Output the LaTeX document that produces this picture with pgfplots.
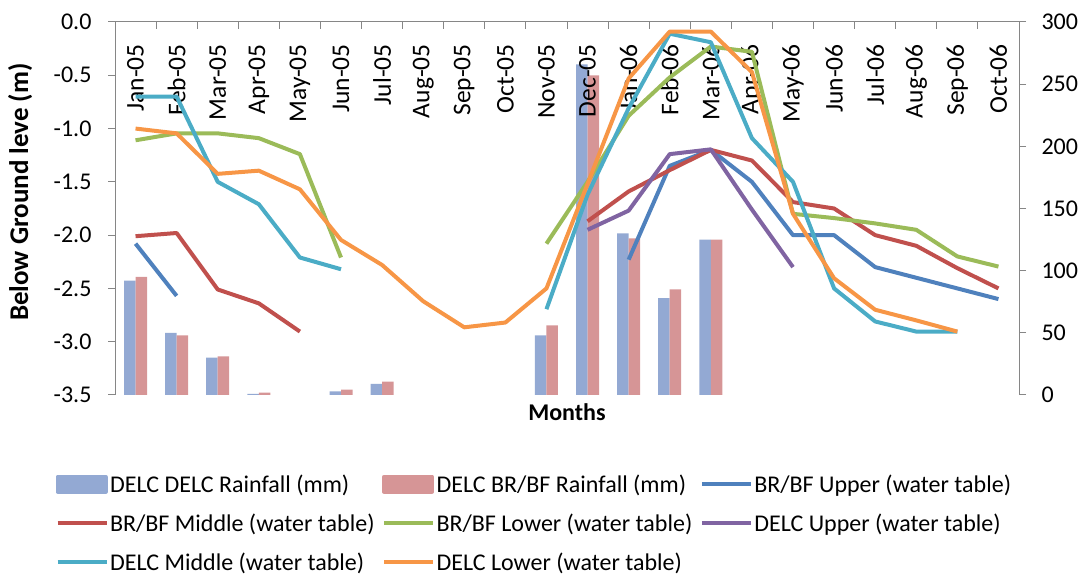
\documentclass[border=0pt]{standalone}
\usepackage{fontspec}
\setmainfont{Carlito}
\usepackage{pgfplots}
\usepackage{pgfplotstable}
\pgfplotsset{compat=1.18}
\definecolor{cBlueBar}{HTML}{93A9D3}
\definecolor{cPinkBar}{HTML}{D69596}
\definecolor{cUp}{HTML}{4F81BD}
\definecolor{cMid}{HTML}{C0504D}
\definecolor{cLow}{HTML}{9BBB59}
\definecolor{cDUp}{HTML}{8064A2}
\definecolor{cDMid}{HTML}{4BACC6}
\definecolor{cDLow}{HTML}{F79646}
\definecolor{axgray}{HTML}{868686}
\newcommand\fs{\fontsize{24}{28.8}\selectfont}
\newcommand\fsx{\fontsize{25.5}{30}\selectfont}
\newcommand\fsy{\fontsize{27}{32}\selectfont}
\pgfplotsset{
  common/.style={at={(115pt,182pt)}, anchor=south west, scale only axis,
    width=904pt, height=373pt, xmin=-0.5, xmax=21.5,
    axis line style={-, axgray, line width=1pt},
    every tick/.style={axgray, line width=1pt},
    major tick length=7pt,
    tick label style={font=\fs},
    /pgf/number format/assume math mode=true},
}
\pgfplotstableread{
x blue pink
0 92 95
1 50 48
2 30 31
3 1 2
5 3 4.3
6 9 10.7
10 48 56
11 266 257
12 130 126
13 78 85
14 125 125
}\rain
\pgfplotstableread{
x up mid low dup dmid dlow
0 -2.08 -2.01 -1.11 nan -0.70 -1.00
1 -2.57 -1.98 -1.045 nan -0.70 -1.045
2 nan -2.51 -1.045 nan -1.50 -1.425
3 nan -2.64 -1.09 nan -1.71 -1.395
4 nan -2.905 -1.24 nan -2.21 -1.57
5 nan nan -2.21 nan -2.32 -2.045
6 nan nan nan nan nan -2.28
7 nan nan nan nan nan -2.62
8 nan nan nan nan nan -2.865
9 nan nan nan nan nan -2.82
10 nan nan -2.08 nan -2.695 -2.50
11 nan -1.87 -1.50 -1.95 -1.62 -1.52
12 -2.23 -1.59 -0.88 -1.77 -0.81 -0.53
13 -1.35 -1.39 -0.52 -1.24 -0.11 -0.09
14 -1.20 -1.20 -0.23 -1.195 -0.19 -0.09
15 -1.50 -1.30 -0.28 -1.76 -1.09 -0.47
16 -2.00 -1.69 -1.80 -2.30 -1.50 -1.80
17 -2.00 -1.75 -1.84 nan -2.50 -2.405
18 -2.30 -2.00 -1.89 nan -2.81 -2.70
19 -2.40 -2.10 -1.95 nan -2.905 -2.80
20 -2.50 -2.31 -2.20 nan -2.905 -2.905
21 -2.60 -2.50 -2.295 nan nan nan
}\levels
\begin{document}
\begin{tikzpicture}
\useasboundingbox (0,0) rectangle (1081pt,577pt);
% bars (right axis)
\begin{axis}[common, ymin=0, ymax=300, axis x line=none, axis y line*=right,
  tick align=outside, ytick={0,50,...,300}, yticklabel shift=12pt,
  ybar=0pt, bar width=11.5pt]
\addplot[fill=cBlueBar, draw=none] table[x=x,y=blue]{\rain};
\addplot[fill=cPinkBar, draw=none] table[x=x,y=pink]{\rain};
\end{axis}
% x frame (top line, category labels)
\begin{axis}[common, ymin=0, ymax=1, axis x line*=top, axis y line=none,
  tick align=inside, xtick={0,...,21},
  xticklabels={Jan-05,Feb-05,Mar-05,Apr-05,May-05,Jun-05,Jul-05,Aug-05,Sep-05,Oct-05,Nov-05,Dec-05,Jan-06,Feb-06,Mar-06,Apr-06,May-06,Jun-06,Jul-06,Aug-06,Sep-06,Oct-06},
  major tick length=0pt, minor xtick={-0.5,0.5,...,21.5}, minor tick length=7pt,
  xticklabel style={font=\fsx, yshift=-22pt, rotate=90, anchor=east, inner sep=0pt},
  xlabel={Months}, xlabel style={at={(axis description cs:0.5,-0.046)}, anchor=center, font=\fs\bfseries}]
\addplot[draw=none] coordinates {(0,0.5)};
\end{axis}
% water levels (left axis)
\begin{axis}[common, ymin=-3.5, ymax=0, axis x line=none, axis y line*=left,
  tick align=outside, ytick={-3.5,-3,...,0}, yticklabel shift=13pt,
  yticklabel style={/pgf/number format/.cd, fixed, fixed zerofill, precision=1},
  ylabel={Below Ground leve (m)},
  ylabel style={at={(axis description cs:-0.105,0.544)}, anchor=center, font=\fsy\bfseries},
  unbounded coords=jump,
  legend columns=3,
  legend cell align=left,
  legend style={at={(axis description cs:-0.066,-0.209)}, anchor=north west, draw=none, fill=none,
    font=\fs, inner sep=0pt, row sep=17pt,
    /tikz/every even column/.append style={column sep=6pt},
    nodes={inner sep=1.5pt}},
  legend image code/.code={\draw[#1] (0pt,0pt) -- (49pt,0pt);},
  every axis plot/.append style={line width=4pt, line join=round}]
\addlegendimage{legend image code/.code={\fill[cBlueBar] (0pt,-7.5pt) rectangle (48pt,7.5pt);}}
\addlegendentry{DELC DELC Rainfall (mm)}
\addlegendimage{legend image code/.code={\fill[cPinkBar] (0pt,-7.5pt) rectangle (48pt,7.5pt);}}
\addlegendentry{DELC BR/BF Rainfall (mm)}
\addplot[cUp] table[x=x,y=up]{\levels};
\addlegendentry{BR/BF Upper (water table)}
\addplot[cMid] table[x=x,y=mid]{\levels};
\addlegendentry{BR/BF Middle (water table)}
\addplot[cLow] table[x=x,y=low]{\levels};
\addlegendentry{BR/BF Lower (water table)}
\addplot[cDUp] table[x=x,y=dup]{\levels};
\addlegendentry{DELC Upper (water table)}
\addplot[cDMid] table[x=x,y=dmid]{\levels};
\addlegendentry{DELC Middle (water table)}
\addplot[cDLow] table[x=x,y=dlow]{\levels};
\addlegendentry{DELC Lower (water table)}
\end{axis}
\end{tikzpicture}
\end{document}
